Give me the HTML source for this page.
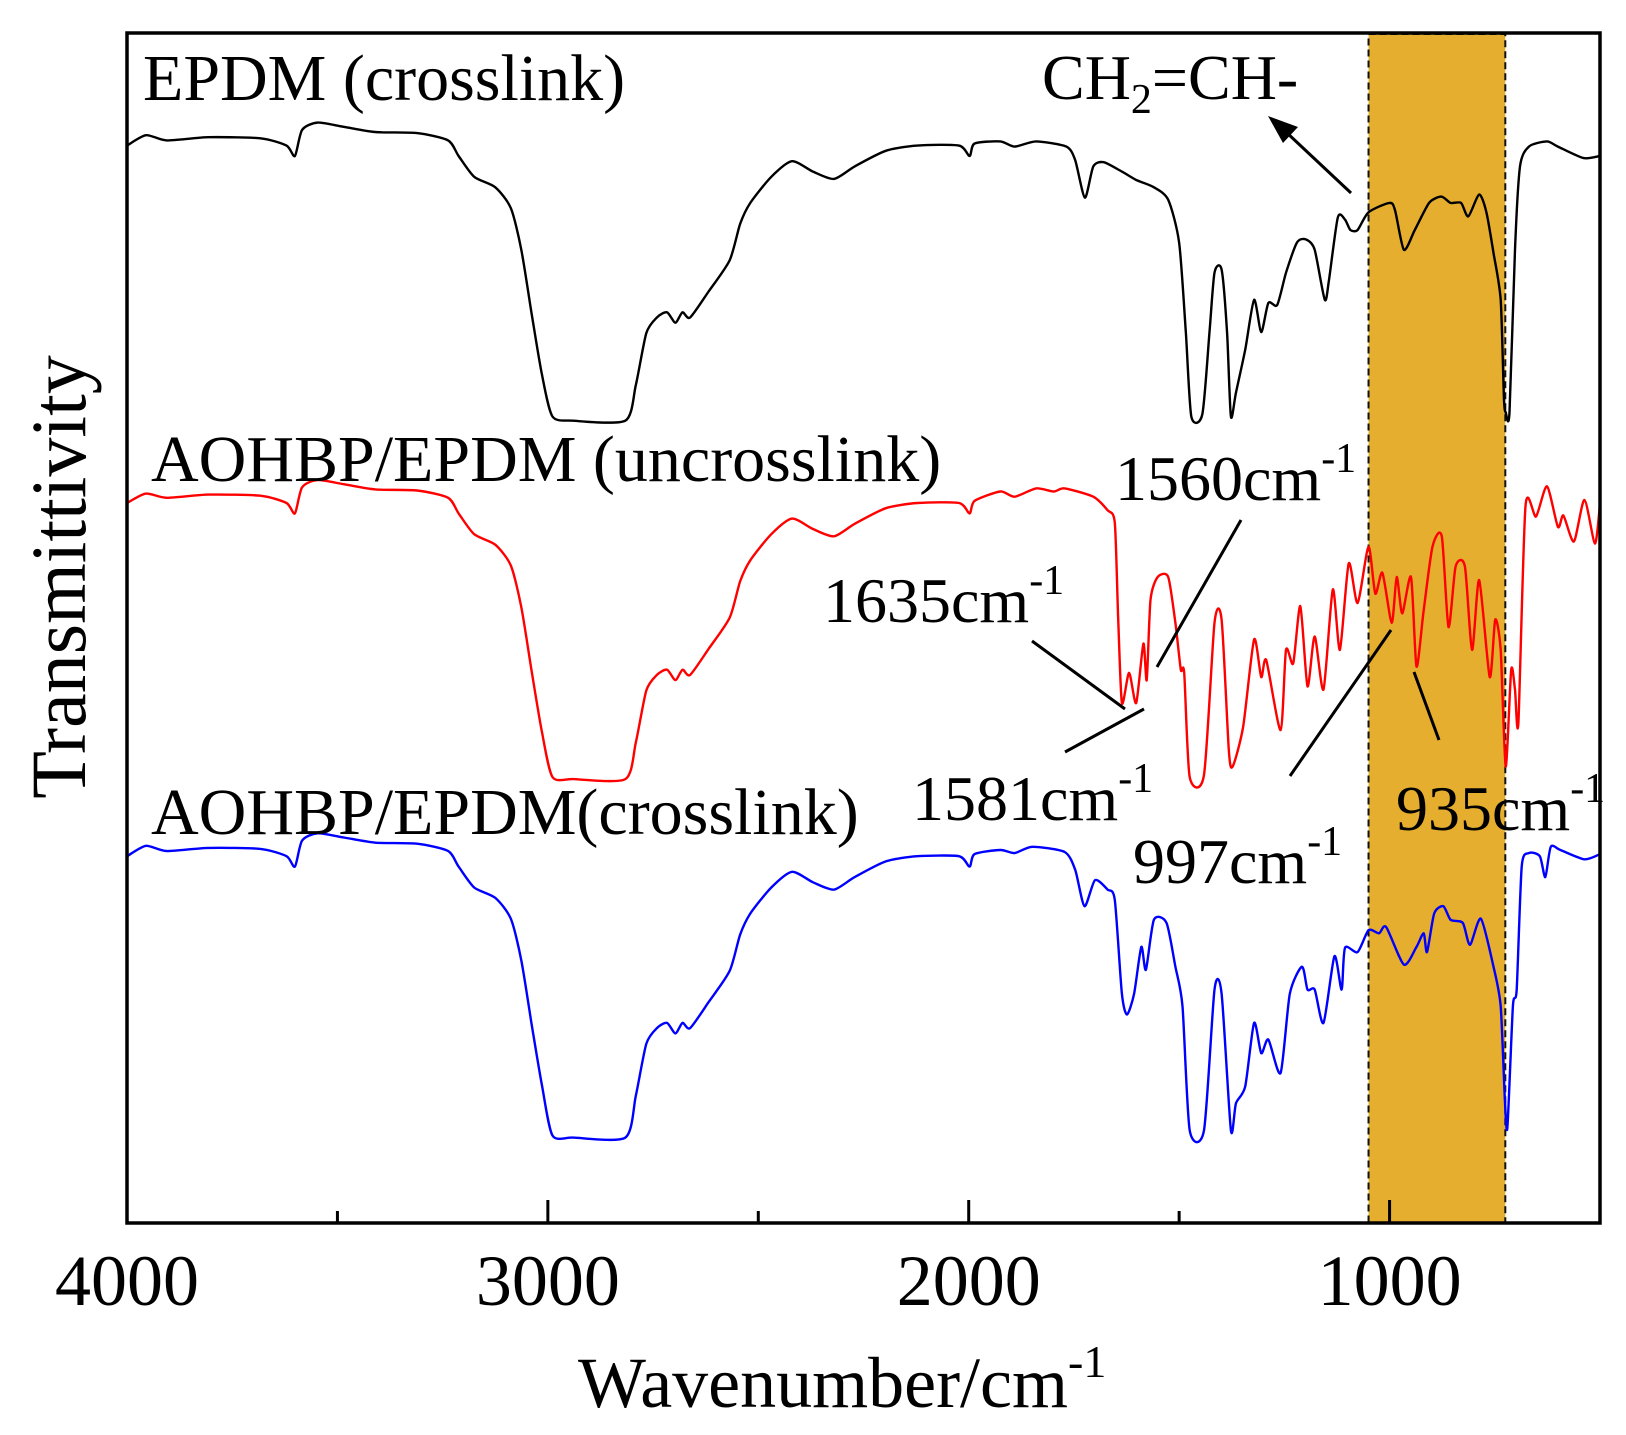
<!DOCTYPE html>
<html><head><meta charset="utf-8"><style>
html,body{margin:0;padding:0;background:#fff;}
svg{display:block;font-family:"Liberation Serif",serif;}
</style></head><body>
<svg id="chart" width="1626" height="1435" viewBox="0 0 1626 1435" xmlns="http://www.w3.org/2000/svg">
<rect id="band" fill="#E5AE2E" stroke="#111" stroke-width="2" stroke-dasharray="7,4"/>
<g id="curves"></g>
<rect x="127" y="33" width="1473" height="1190" fill="none" stroke="#000" stroke-width="3.5"/>
<g id="ticks"></g>
<text x="578" y="1407" font-size="72">Wavenumber/cm<tspan font-size="46" dy="-30">-1</tspan></text>
<text transform="translate(85,577) rotate(-90)" text-anchor="middle" font-size="78">Transmittivity</text>
<text x="143" y="100" font-size="66">EPDM (crosslink)</text>
<text x="151" y="481" font-size="66">AOHBP/EPDM (uncrosslink)</text>
<text x="151" y="834" font-size="66">AOHBP/EPDM(crosslink)</text>
<text x="1042" y="99" font-size="64">CH<tspan font-size="42" dy="14">2</tspan><tspan dy="-14">=CH-</tspan></text>
<text x="1115" y="500" font-size="64">1560cm<tspan font-size="42" dy="-28">-1</tspan></text>
<text x="823" y="622" font-size="64">1635cm<tspan font-size="42" dy="-28">-1</tspan></text>
<text x="912" y="820" font-size="64">1581cm<tspan font-size="42" dy="-28">-1</tspan></text>
<text x="1133" y="883" font-size="64">997cm<tspan font-size="42" dy="-28">-1</tspan></text>
<text x="1396" y="830" font-size="64">935cm<tspan font-size="42" dy="-28">-1</tspan></text>
<g stroke="#000" stroke-width="3">
<line x1="1351" y1="193" x2="1286" y2="132"/>
<polygon points="1268,116 1298,127 1283,143" fill="#000" stroke="none"/>
<line x1="1032" y1="641" x2="1125" y2="709"/>
<line x1="1065" y1="752" x2="1144" y2="709"/>
<line x1="1241" y1="520" x2="1157" y2="667"/>
<line x1="1290" y1="776" x2="1391" y2="630"/>
<line x1="1414" y1="672" x2="1439" y2="740"/>
</g>
</svg>
<script>
const xTicks=[4000,3000,2000,1000];
const xMinor=[3500,2500,1500];
const band=[1050,725];
const blackW=[4000,3955,3906,3807,3683,3621,3601,3584,3547,3485,3410,3311,3237,3212,3175,3125,3088,3063,3039,3014,2989,2940,2816,2791,2766,2741,2717,2697,2680,2662,2618,2568,2543,2519,2469,2420,2370,2320,2271,2197,2122,2023,1998,1986,1925,1891,1840,1768,1747,1724,1704,1679,1636,1602,1560,1526,1500,1484,1471,1445,1428,1416,1399,1386,1377,1365,1343,1322,1305,1288,1267,1246,1220,1199,1178,1154,1144,1123,1106,1093,1076,1050,1000,987,966,940,906,877,855,830,813,787,770,753,736,728,724,715,702,690,669,626,600,539,500];
const blackT=[1034,1044,1039,1042,1041,1034,1024,1049,1056,1052,1047,1046,1039,1024,1004,994,974,934,874,814,774,770,770,804,854,869,874,864,874,869,894,924,959,979,1004,1019,1009,1002,1014,1029,1034,1034,1024,1036,1038,1033,1038,1033,1020,984,1014,1018,1009,1001,994,982,941,854,774,776,854,912,915,854,774,797,838,886,855,883,881,912,941,944,934,886,905,965,963,953,953,970,979,972,934,953,979,985,979,979,966,987,970,931,886,790,778,778,934,1014,1033,1038,1033,1022,1024];
const redW=[4000,3955,3906,3807,3683,3621,3601,3584,3547,3485,3410,3311,3237,3212,3175,3125,3088,3063,3039,3014,2989,2940,2816,2791,2766,2741,2717,2697,2680,2662,2618,2568,2543,2519,2469,2420,2370,2320,2271,2197,2122,2023,1998,1986,1925,1891,1840,1798,1772,1704,1670,1653,1645,1636,1619,1602,1585,1577,1568,1551,1526,1509,1496,1488,1475,1441,1416,1399,1382,1373,1348,1322,1305,1293,1259,1246,1229,1212,1195,1178,1157,1135,1118,1097,1076,1050,1034,1017,995,983,970,949,936,919,898,876,860,843,821,804,787,762,749,736,724,711,702,694,677,652,626,600,587,562,537,512,500];
const redT=[691,700,696,699,698,691,681,706,713,709,704,703,696,681,661,651,631,591,531,471,428,426,426,461,511,526,531,521,531,526,551,581,616,636,661,676,666,659,671,686,691,691,681,693,702,697,705,702,705,697,684,672,582,499,528,499,556,521,598,620,620,576,531,528,428,430,576,579,454,438,476,560,524,540,473,550,537,592,515,563,512,608,550,633,595,649,604,624,576,620,585,620,534,588,649,659,572,630,630,550,617,524,579,550,438,531,512,480,688,678,707,668,679,654,694,652,690];
const blueW=[4000,3955,3906,3807,3683,3621,3601,3584,3547,3485,3410,3311,3237,3212,3175,3125,3088,3063,3039,3014,2989,2940,2816,2791,2766,2741,2717,2697,2680,2662,2618,2568,2543,2519,2469,2420,2370,2320,2271,2197,2122,2023,1998,1986,1925,1891,1849,1772,1747,1725,1700,1670,1653,1636,1624,1607,1590,1579,1560,1530,1509,1492,1475,1441,1416,1399,1377,1365,1343,1322,1305,1288,1259,1237,1208,1195,1178,1157,1131,1114,1106,1076,1050,1025,1008,966,936,919,911,894,872,855,826,809,783,753,736,726,720,707,698,686,669,643,630,617,594,537,500];
const blueT=[352,362,357,360,359,352,342,367,374,370,365,364,357,342,322,312,292,252,192,132,84,82,82,122,172,187,192,182,192,187,212,242,277,297,322,337,327,320,332,347,352,352,342,354,358,355,361,356,339,304,329,320,310,220,200,220,265,243,291,288,246,208,89,89,224,220,89,115,131,192,163,176,144,220,246,224,224,192,256,224,264,260,281,278,284,248,265,278,260,297,304,291,288,267,292,246,208,118,92,208,224,342,355,352,332,361,358,349,354];

const X0=127,X1=1600,Y0=1223;
function xs(w){return X0+(4000-w)*(X1-X0)/3500;}
function ys(t){return Y0-t*1.042;}
const NS='http://www.w3.org/2000/svg';
const bd=document.getElementById('band');
bd.setAttribute('x',xs(band[0]));bd.setAttribute('y',34);
bd.setAttribute('width',xs(band[1])-xs(band[0]));bd.setAttribute('height',Y0-34);
const cg=document.getElementById('curves');
function curve(W,T,color,name){
  const p=document.createElementNS(NS,'path');
  const P=W.map((w,i)=>[xs(w),ys(T[i])]);
  let d='M'+P[0][0].toFixed(1)+','+P[0][1].toFixed(1);
  const k=0.12;
  for(let i=0;i<P.length-1;i++){
    const p0=P[Math.max(0,i-1)],p1=P[i],p2=P[i+1],p3=P[Math.min(P.length-1,i+2)];
    const c1=[p1[0]+(p2[0]-p0[0])*k,p1[1]+(p2[1]-p0[1])*k];
    const c2=[p2[0]-(p3[0]-p1[0])*k,p2[1]-(p3[1]-p1[1])*k];
    d+='C'+c1[0].toFixed(1)+','+c1[1].toFixed(1)+' '+c2[0].toFixed(1)+','+c2[1].toFixed(1)+' '+p2[0].toFixed(1)+','+p2[1].toFixed(1);
  }
  p.setAttribute('d',d);p.setAttribute('fill','none');p.setAttribute('stroke',color);
  p.setAttribute('stroke-width','2.4');p.setAttribute('stroke-linejoin','round');
  
  
  cg.appendChild(p);
}
curve(blackW,blackT,'#000','curve-epdm-crosslink');
curve(redW,redT,'#ff0000','curve-aohbp-epdm-uncrosslink');
curve(blueW,blueT,'#0000ff','curve-aohbp-epdm-crosslink');
const tg=document.getElementById('ticks');
xTicks.forEach(v=>{
  const l=document.createElementNS(NS,'line');
  l.setAttribute('x1',xs(v));l.setAttribute('x2',xs(v));l.setAttribute('y1',Y0);l.setAttribute('y2',Y0-23);
  l.setAttribute('stroke','#000');l.setAttribute('stroke-width','3');
  
  
  tg.appendChild(l);
  const t=document.createElementNS(NS,'text');
  t.setAttribute('x',xs(v));t.setAttribute('y',1305);t.setAttribute('text-anchor','middle');t.setAttribute('font-size','72');
  t.textContent=v;
  
  
  tg.appendChild(t);
});
xMinor.forEach(v=>{
  const l=document.createElementNS(NS,'line');
  l.setAttribute('x1',xs(v));l.setAttribute('x2',xs(v));l.setAttribute('y1',Y0);l.setAttribute('y2',Y0-12);
  l.setAttribute('stroke','#000');l.setAttribute('stroke-width','3');
  
  
  tg.appendChild(l);
});
</script>
</body></html>
